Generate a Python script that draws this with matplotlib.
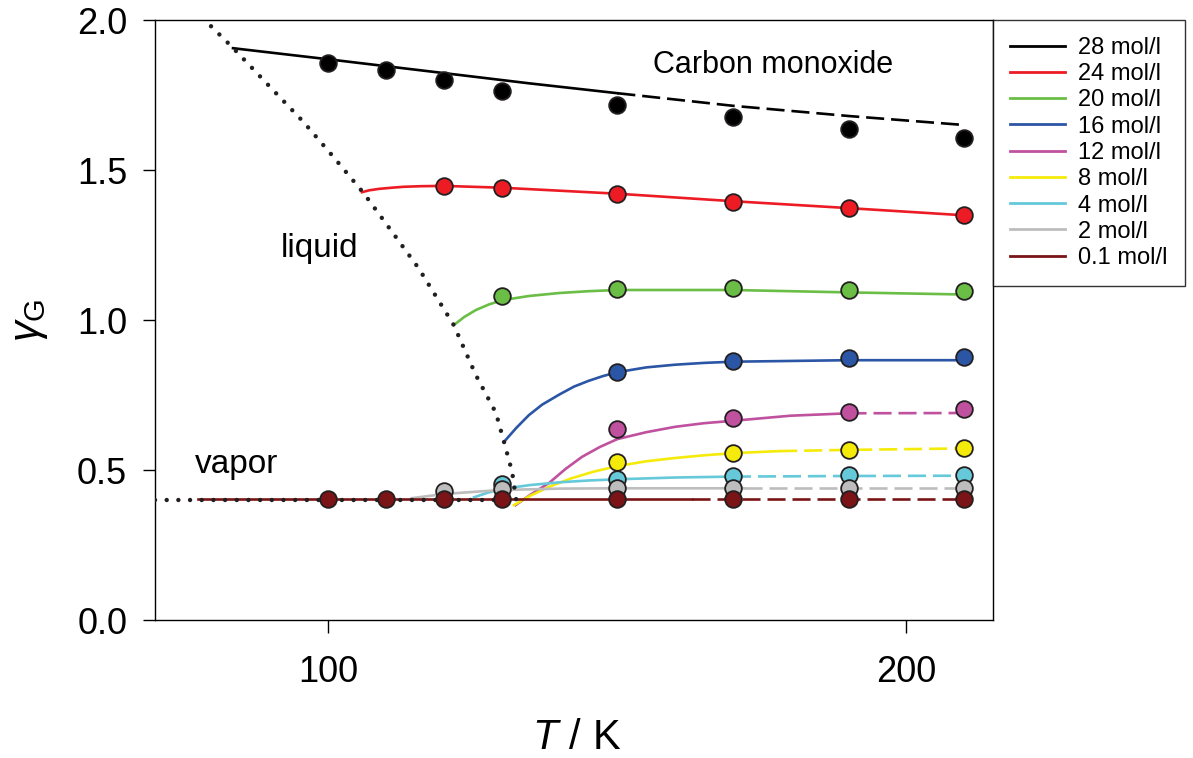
import matplotlib
matplotlib.use("Agg")
import matplotlib.pyplot as plt
from matplotlib.lines import Line2D

plt.rcParams["font.family"] = ["Liberation Sans", "DejaVu Sans"]
plt.rcParams["mathtext.fontset"] = "custom"
plt.rcParams["mathtext.rm"] = "Liberation Sans"
plt.rcParams["mathtext.it"] = "Liberation Sans:italic"
plt.rcParams["lines.scale_dashes"] = False

# --- data ---
labels = ["28 mol/l", "24 mol/l", "20 mol/l", "16 mol/l", "12 mol/l",
          "8 mol/l", "4 mol/l", "2 mol/l", "0.1 mol/l"]
colors = ["#000000", "#ed1c24", "#6abd45", "#2b55a5", "#c0519f",
          "#f5eb0a", "#65c9d9", "#bdbdbd", "#7a1416"]

# simulation points (T in K, gamma_G)
sim_T = [
    [100, 110, 120, 130, 150, 170, 190, 210],
    [120, 130, 150, 170, 190, 210],
    [130, 150, 170, 190, 210],
    [150, 170, 190, 210],
    [150, 170, 190, 210],
    [150, 170, 190, 210],
    [130, 150, 170, 190, 210],
    [120, 130, 150, 170, 190, 210],
    [100, 110, 120, 130, 150, 170, 190, 210],
]
sim_gamma = [
    [1.857, 1.832, 1.801, 1.765, 1.717, 1.676, 1.636, 1.606],
    [1.447, 1.439, 1.419, 1.392, 1.372, 1.350],
    [1.080, 1.103, 1.107, 1.100, 1.097],
    [0.828, 0.862, 0.872, 0.876],
    [0.637, 0.674, 0.694, 0.702],
    [0.528, 0.558, 0.567, 0.574],
    [0.452, 0.469, 0.481, 0.483, 0.483],
    [0.430, 0.436, 0.439, 0.439, 0.439, 0.439],
    [0.402, 0.402, 0.402, 0.402, 0.402, 0.402, 0.402, 0.402],
]

# fitted curves
fit_T = [
    [83.5, 100, 120, 134.7, 150, 170, 190, 210],
    [105.8, 107, 108.7, 111, 113, 116, 120, 130, 150, 170, 190, 210],
    [121.7, 123.5, 125.5, 127.8, 130.1, 134.7, 140, 145, 150, 170, 190, 210],
    [130.4, 132.5, 134.7, 137, 140, 142.5, 145, 147.5, 150, 155, 160, 165,
     170, 190, 210],
    [132.4, 135, 138.2, 141, 143.9, 147, 150, 155, 160, 165, 170, 180, 190,
     210],
    [132.1, 135, 138.2, 142, 146, 150, 155, 160, 165, 170, 178, 190, 210],
    [125.2, 127.5, 130, 135, 140, 145, 150, 160, 170, 190, 210],
    [114.4, 120, 129.5, 140, 150, 172, 210],
    [77.4, 163, 210],
]
fit_gamma = [
    [1.906, 1.869, 1.823, 1.789, 1.756, 1.714, 1.680, 1.650],
    [1.426, 1.432, 1.437, 1.441, 1.444, 1.446, 1.447, 1.441, 1.421, 1.396,
     1.373, 1.349],
    [0.983, 1.010, 1.033, 1.052, 1.066, 1.080, 1.090, 1.096, 1.100, 1.100,
     1.092, 1.085],
    [0.594, 0.640, 0.683, 0.718, 0.752, 0.778, 0.797, 0.813, 0.826, 0.842,
     0.851, 0.857, 0.861, 0.866, 0.866],
    [0.383, 0.418, 0.457, 0.503, 0.544, 0.577, 0.603, 0.626, 0.644, 0.656,
     0.664, 0.681, 0.689, 0.690],
    [0.383, 0.415, 0.444, 0.472, 0.495, 0.513, 0.529, 0.540, 0.549, 0.556,
     0.563, 0.567, 0.572],
    [0.409, 0.424, 0.437, 0.450, 0.459, 0.465, 0.469, 0.475, 0.478, 0.480,
     0.481],
    [0.406, 0.420, 0.433, 0.438, 0.439, 0.439, 0.439],
    [0.402, 0.402, 0.402],
]
# temperature where the curve turns from solid to dashed (None = solid)
dash_from = [150, None, None, None, 190, 178, 170, 172, 163]

# vapour-liquid coexistence (dotted)
coex_T = [70, 132.5, 131.8, 130.4, 129.0, 125.5, 121.7, 115.6, 110.9,
          106.1, 100.9, 95.7, 90.1, 83.5, 78.6, 77.5]
coex_gamma = [0.40, 0.40, 0.493, 0.593, 0.690, 0.817, 0.983, 1.173, 1.297,
              1.423, 1.543, 1.660, 1.773, 1.907, 2.000, 2.030]

W, H = 1193, 758
fig = plt.figure(figsize=(W / 100, H / 100), dpi=100)
ax = fig.add_axes([155 / W, 1 - 620 / H, (993 - 155) / W, 600 / H])

for i in range(len(labels)):
    T, g = fit_T[i], fit_gamma[i]
    if dash_from[i] is None:
        ax.plot(T, g, color=colors[i], lw=1.9, zorder=2)
    else:
        k = T.index(dash_from[i])
        ax.plot(T[:k + 1], g[:k + 1], color=colors[i], lw=1.9, zorder=2)
        ax.plot(T[k:], g[k:], color=colors[i], lw=1.9, dashes=(13, 5), zorder=2)

ax.plot(coex_T, coex_gamma, color="#231f20", lw=3.2, dashes=(0.01, 8.4),
        dash_capstyle="round", zorder=3)

for i in range(len(labels)):
    ax.plot(sim_T[i], sim_gamma[i], ls="none", marker="o", ms=12,
            mfc=colors[i], mec="#231f20", mew=1.3, zorder=4 + i)

ax.text(156.1, 1.85, "Carbon monoxide", fontsize=22, ha="left", va="center")
ax.text(91.8, 1.24, "liquid", fontsize=24, ha="left", va="center")
ax.text(76.9, 0.517, "vapor", fontsize=24, ha="left", va="center")

ax.set_xlim(70, 215)
ax.set_ylim(0, 2.0)
ax.set_xticks([100, 200])
ax.set_yticks([0.0, 0.5, 1.0, 1.5, 2.0])
ax.set_yticklabels(["0.0", "0.5", "1.0", "1.5", "2.0"])
ax.tick_params(direction="out", length=9, width=1, labelsize=26,
               top=False, right=False)
ax.tick_params(axis="x", pad=16)
ax.tick_params(axis="y", pad=11)
for s in ax.spines.values():
    s.set_linewidth(1.0)

fig.text(577 / W, 1 - 738 / H, r"$T$ / K", fontsize=30, ha="center", va="center")
fig.text(30 / W, 1 - 320 / H, r"$\gamma_{\mathrm{G}}$", fontsize=30,
         rotation=90, ha="center", va="center")

handles = [Line2D([], [], color=c, lw=2) for c in colors]
leg = fig.legend(handles, labels, loc="upper left",
                 bbox_to_anchor=(993 / W, 1 - 20 / H),
                 bbox_transform=fig.transFigure, borderaxespad=0,
                 frameon=True, fancybox=False, edgecolor="black",
                 fontsize=17, handlelength=2.33, handletextpad=0.57,
                 borderpad=0.72, labelspacing=0.18)
leg.get_frame().set_linewidth(1.0)

fig.savefig("out.png", dpi=100)
